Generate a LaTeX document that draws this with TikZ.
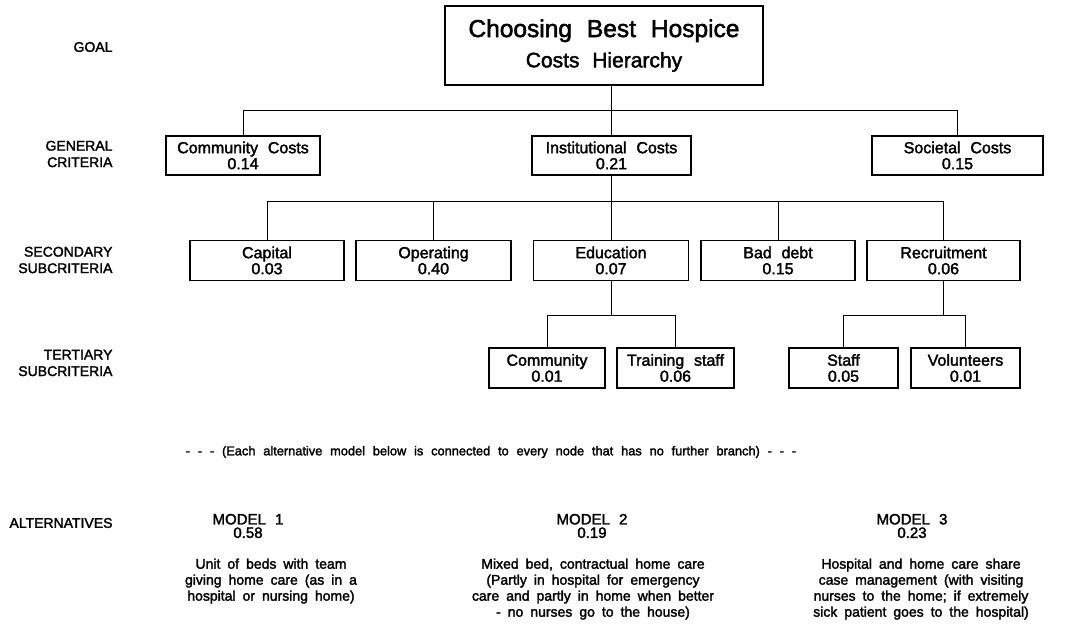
\documentclass[tikz,border=0pt]{standalone}
\usepackage{fontspec}
\setmainfont{Liberation Sans}[WordSpace=2.2, FakeBold=2]
\newfontfamily\descfont{Liberation Sans}[WordSpace=1.8, FakeBold=2]
\begin{document}
\begin{tikzpicture}[
  x=1pt, y=-1pt,
  level/.style={anchor=east, align=right, font=\fontsize{14}{16.5}\selectfont},
  crit/.style={draw, line width=1.4pt, inner sep=0pt, align=center, minimum height=40pt, font=\fontsize{16}{16}\selectfont},
  link/.style={line width=0.9pt},
  model/.style={align=center, font=\fontsize{15}{13.5}\selectfont},
  desc/.style={anchor=north, align=center, font=\descfont\fontsize{14}{16}\selectfont}
]
\useasboundingbox (0,0) rectangle (1068,629);

% Level names
\node[level] (lgoal) at (116,47) {GOAL};
\node[level] (lgen) at (116,154) {GENERAL\\CRITERIA};
\node[level] (lsec) at (116,260) {SECONDARY\\SUBCRITERIA};
\node[level] (lter) at (116,363) {TERTIARY\\SUBCRITERIA};
\node[level] (lalt) at (116,523) {ALTERNATIVES};

% Goal
\node[crit,minimum width=318pt,minimum height=79pt] (goal) at (604,45.5)
  {\fontsize{24.5}{26}\selectfont Choosing Best Hospice\\[9pt]\fontsize{21}{24}\selectfont Costs Hierarchy};

% General criteria
\node[crit,minimum width=154pt,minimum height=39pt] (comm) at (243,155.5) {Community Costs\\0.14};
\node[crit,minimum width=159pt,minimum height=39pt] (inst) at (611.5,155.5) {Institutional Costs\\0.21};
\node[crit,minimum width=171pt,minimum height=39pt] (soc) at (957.5,155.5) {Societal Costs\\0.15};

% Secondary subcriteria
\node[crit,minimum width=154pt] (cap) at (267,260.5) {Capital\\0.03};
\node[crit,minimum width=155pt] (oper) at (433.5,260.5) {Operating\\0.40};
\node[crit,minimum width=155pt] (edu) at (611,260.5) {Education\\0.07};
\node[crit,minimum width=154pt] (bad) at (778,260.5) {Bad debt\\0.15};
\node[crit,minimum width=153pt] (recr) at (943.5,260.5) {Recruitment\\0.06};

% Tertiary subcriteria
\node[crit,minimum width=116pt] (tcomm) at (547,368) {Community\\0.01};
\node[crit,minimum width=117pt] (train) at (675.5,368) {Training staff\\0.06};
\node[crit,minimum width=109pt] (staff) at (843.5,368) {Staff\\0.05};
\node[crit,minimum width=109pt] (vol) at (965.5,368) {Volunteers\\0.01};

% Alternatives
\node[font=\fontsize{12.8}{14}\selectfont] (note) at (491,452)
  {- - - (Each alternative model below is connected to every node that has no further branch) - - -};
\node[model] (m1) at (248,526) {MODEL 1\\0.58};
\node[model] (m2) at (592,526) {MODEL 2\\0.19};
\node[model] (m3) at (912,526) {MODEL 3\\0.23};
\node[desc] (d1) at (271,555) {Unit of beds with team\\giving home care (as in a\\hospital or nursing home)};
\node[desc] (d2) at (593,555) {Mixed bed, contractual home care\\(Partly in hospital for emergency\\care and partly in home when better\\- no nurses go to the house)};
\node[desc] (d3) at (921,555) {Hospital and home care share\\case management (with visiting\\nurses to the home; if extremely\\sick patient goes to the hospital)};

% Branch lines
\coordinate (busA) at (0,110);
\coordinate (busB) at (0,201.5);
\coordinate (busC) at (0,315);
\draw[link] (goal.south -| inst.north) -- (inst.north);
\draw[link] (comm.north) -- (comm.north |- busA) -- (soc.north |- busA) -- (soc.north);
\draw[link] (inst.south) -- (inst.south |- busB);
\draw[link] (cap.north) -- (cap.north |- busB) -- (recr.north |- busB) -- (recr.north);
\draw[link] (oper.north) -- (oper.north |- busB);
\draw[link] (edu.north) -- (edu.north |- busB);
\draw[link] (bad.north) -- (bad.north |- busB);
\draw[link] (edu.south) -- (edu.south |- busC);
\draw[link] (tcomm.north) -- (tcomm.north |- busC) -- (train.north |- busC) -- (train.north);
\draw[link] (recr.south) -- (recr.south |- busC);
\draw[link] (staff.north) -- (staff.north |- busC) -- (vol.north |- busC) -- (vol.north);
\end{tikzpicture}
\end{document}
